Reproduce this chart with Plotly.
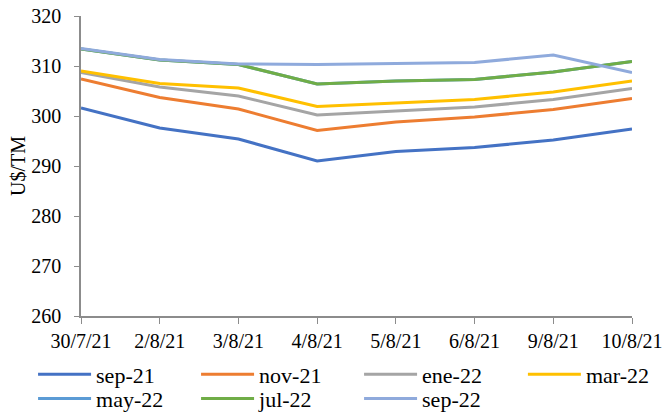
import plotly.graph_objects as go

dates = ["30/7/21", "2/8/21", "3/8/21", "4/8/21", "5/8/21", "6/8/21", "9/8/21", "10/8/21"]

sep_21 = [301.6, 297.6, 295.4, 291.0, 292.9, 293.7, 295.2, 297.4]
nov_21 = [307.4, 303.7, 301.4, 297.1, 298.8, 299.8, 301.3, 303.5]
ene_22 = [308.7, 305.8, 304.0, 300.2, 301.0, 301.8, 303.3, 305.5]
mar_22 = [309.0, 306.5, 305.6, 301.9, 302.6, 303.3, 304.8, 307.0]
may_22 = [313.4, 311.2, 310.3, 306.4, 307.0, 307.3, 308.8, 310.9]
jul_22 = [313.4, 311.2, 310.3, 306.4, 307.0, 307.3, 308.8, 310.9]
sep_22 = [313.5, 311.3, 310.4, 310.3, 310.5, 310.7, 312.2, 308.7]

series = [
    ("sep-21", sep_21, "#4472C4", "legend"),
    ("nov-21", nov_21, "#ED7D31", "legend"),
    ("ene-22", ene_22, "#A5A5A5", "legend"),
    ("mar-22", mar_22, "#FFC000", "legend3"),
    ("may-22", may_22, "#5B9BD5", "legend2"),
    ("jul-22", jul_22, "#70AD47", "legend2"),
    ("sep-22", sep_22, "#8FAADC", "legend2"),
]

font = "'Liberation Serif', 'Times New Roman', Times, serif"
fig = go.Figure()
for name, vals, col, leg in series:
    fig.add_trace(go.Scatter(x=list(range(len(dates))), y=vals, name=name, mode="lines",
                             line=dict(color=col, width=3), legend=leg))

legend_common = dict(orientation="h", xanchor="left", yanchor="middle",
                     entrywidth=95, entrywidthmode="pixels", tracegroupgap=0,
                     font=dict(family=font, size=22), itemwidth=53,
                     bgcolor="rgba(0,0,0,0)")

fig.update_layout(
    width=665, height=412,
    margin=dict(l=81, r=33, t=16, b=96, autoexpand=False),
    paper_bgcolor="white", plot_bgcolor="white",
    font=dict(family=font, size=20, color="black"),
    showlegend=True,
    legend=dict(x=-0.087, y=-0.195, **legend_common),
    legend2=dict(x=-0.087, y=-0.276, **legend_common),
    legend3=dict(x=0.802, y=-0.195, **legend_common),
)
fig.update_xaxes(
    range=[0, 7], tickmode="array", tickvals=list(range(len(dates))), ticktext=dates,
    showgrid=False, zeroline=False, showline=True, linecolor="#8C8C8C", linewidth=1.5,
    ticks="outside", ticklen=6, tickcolor="#8C8C8C", tickwidth=1.2,
    tickfont=dict(family=font, size=20), ticklabelstandoff=0,
    ticklabeloverflow="allow",
)
fig.update_yaxes(
    range=[260, 320], dtick=10, showgrid=False, zeroline=False,
    showline=True, linecolor="#8C8C8C", linewidth=1.5,
    ticks="outside", ticklen=5, tickcolor="#8C8C8C", tickwidth=1.2,
    tickfont=dict(family=font, size=20), ticklabelstandoff=9,
    ticklabeloverflow="allow",
    title=dict(text="U$/TM", font=dict(family=font, size=20), standoff=0),
)
fig.write_html("out.html", config={"displayModeBar": False},
               post_script="document.body.style.margin='0px';")
